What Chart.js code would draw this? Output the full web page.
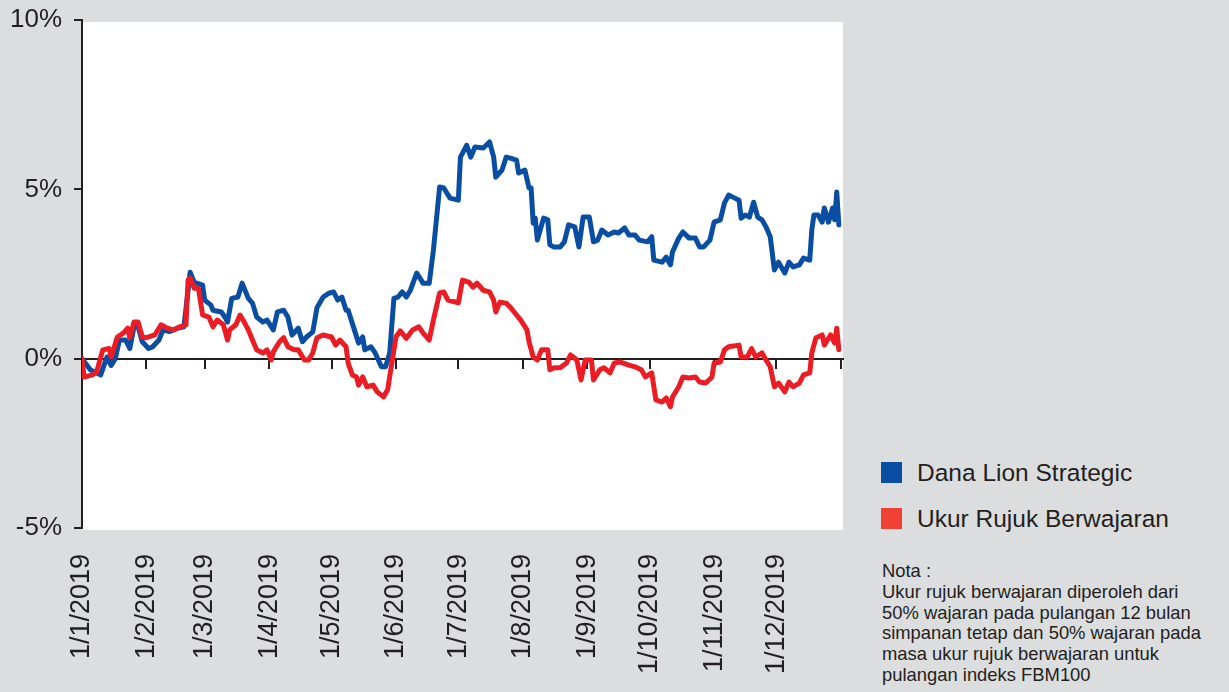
<!DOCTYPE html>
<html>
<head>
<meta charset="utf-8">
<script src="https://cdn.jsdelivr.net/npm/chart.js"></script>
<style>
  html, body { margin: 0; padding: 0; }
  body {
    width: 1229px; height: 692px; overflow: hidden;
    background: #dcdddf;
    font-family: "Liberation Sans", Arial, Helvetica, sans-serif;
    color: #231f20;
    position: relative;
  }
  #chartBox { position: absolute; left: 0; top: 0; width: 850px; height: 692px; }
  .legend-item { position: absolute; left: 881px; font-size: 24.5px; line-height: 24px; }
  .legend-item .box { position: absolute; left: 0; top: 0; width: 21px; height: 21px; }
  .legend-item .txt { position: absolute; left: 36px; top: -1px; white-space: nowrap; }
  #note { position: absolute; left: 882px; top: 561px; width: 345px; font-size: 18.4px; line-height: 20.8px; white-space: nowrap; }
</style>
</head>
<body>
<div id="chartBox"><canvas id="perfChart"></canvas></div>

<div class="legend-item" style="top:462px"><span class="box" style="background:#0a4ea3"></span><span class="txt">Dana Lion Strategic</span></div>
<div class="legend-item" style="top:508px"><span class="box" style="background:#ef4136"></span><span class="txt">Ukur Rujuk Berwajaran</span></div>
<div id="note">Nota :<br>Ukur rujuk berwajaran diperoleh dari<br>50% wajaran pada pulangan 12 bulan<br>simpanan tetap dan 50% wajaran pada<br>masa ukur rujuk berwajaran untuk<br>pulangan indeks FBM100</div>

<script>
// hari sejak 1/1/2019 (0 = 1 Jan) dan pulangan kumulatif (%)
const monthStarts = [0, 31, 59, 90, 120, 151, 181, 212, 243, 273, 304, 334];
const monthLabels = ['1/1/2019', '1/2/2019', '1/3/2019', '1/4/2019', '1/5/2019', '1/6/2019',
                     '1/7/2019', '1/8/2019', '1/9/2019', '1/10/2019', '1/11/2019', '1/12/2019'];
const zeroTicks = [31, 59, 90, 120, 151, 181, 212, 243, 273, 304, 334, 365];
const yTicks = [-5, 0, 5, 10];

const fundDays = [0,4,9,12,14,16,18,21,23,25,27,29,32,34,37,39,42,46,49,51,52,54,58,59,62,63,67,69,70,72,75,77,80,82,84,87,89,92,94,97,99,101,104,106,108,111,113,116,119,121,123,125,127,128,131,133,135,136,139,141,144,146,148,150,152,154,156,158,161,164,167,169,172,174,177,181,182,185,187,189,193,196,198,199,202,204,206,209,210,213,215,216,217,218,219,222,224,225,227,230,232,234,237,239,241,244,246,248,250,253,256,258,261,263,266,268,272,274,275,279,281,283,284,287,289,292,295,297,299,302,304,307,309,311,313,316,317,319,321,323,325,327,329,331,333,335,338,340,342,345,347,350,351,352,354,356,357,359,361,362,363,364];
const fundReturns = [0,-0.33,-0.48,0.05,-0.2,0,0.55,0.55,0.3,0.94,0.94,0.5,0.3,0.35,0.55,0.85,0.8,0.9,0.94,2.0,2.55,2.25,2.17,1.73,1.58,1.43,1.38,1.2,1.08,1.78,1.82,2.23,1.78,1.64,1.23,1.08,1.14,0.85,1.38,1.43,1.23,0.7,0.9,0.5,0.64,0.79,1.5,1.82,1.94,1.97,1.73,1.82,1.43,1.43,0.85,0.46,0.64,0.26,0.35,0.17,-0.24,-0.24,0.17,1.78,1.82,1.97,1.82,2.03,2.53,2.23,2.23,3.2,5.07,5.04,4.74,4.68,5.95,6.3,5.95,6.25,6.22,6.4,5.95,5.36,5.57,5.95,5.92,5.86,5.48,5.57,5.04,5.04,4.0,4.15,3.5,4.15,4.1,3.36,3.3,3.3,3.45,3.95,3.89,3.3,4.18,4.18,3.45,3.5,3.8,3.65,3.74,3.71,3.86,3.65,3.65,3.5,3.45,3.6,2.91,2.85,3.0,2.77,3.15,3.56,3.74,3.56,3.56,3.3,3.3,3.5,4.03,4.1,4.6,4.83,4.77,4.68,4.15,4.24,4.18,4.62,4.18,4.1,3.89,3.6,2.62,2.85,2.53,2.85,2.71,2.77,2.97,2.91,3.8,4.24,4.24,4.03,4.45,4.03,4.45,4.1,4.92,3.95];

const benchDays = [0,1,5,7,10,13,14,17,20,22,23,25,27,29,31,35,38,41,44,47,50,51,52,54,56,58,61,63,65,68,70,71,74,76,78,80,82,84,87,89,91,92,95,97,99,102,104,107,109,111,113,116,120,122,124,127,128,130,132,133,135,137,140,142,145,147,149,151,153,156,159,162,164,167,169,172,174,176,181,183,186,188,190,193,196,198,199,201,204,206,209,211,214,215,217,219,221,224,225,227,230,233,235,238,240,242,245,246,249,251,254,256,259,263,266,269,271,274,276,279,281,283,284,287,289,292,295,297,300,303,304,307,309,311,316,317,320,322,324,327,329,331,333,335,338,340,342,345,347,350,351,353,356,357,360,362,363,364];
const benchReturns = [0,-0.54,-0.48,-0.4,0.26,0.3,0.05,0.64,0.76,0.9,0.62,1.08,1.08,0.64,0.62,0.7,1.0,0.9,0.85,0.94,1.0,2.32,2.38,2.08,2.08,1.29,1.23,0.94,1.14,1.0,0.55,0.85,1.0,1.29,1.08,0.85,0.55,0.26,0.17,0.26,-0.04,0.2,0.5,0.62,0.35,0.26,0.26,-0.04,-0.04,0.17,0.62,0.7,0.64,0.4,0.55,0.35,-0.13,-0.48,-0.54,-0.78,-0.54,-0.83,-0.78,-0.98,-1.13,-0.92,-0.13,0.64,0.82,0.6,0.85,0.94,0.76,0.55,1.14,1.94,1.97,1.73,1.65,2.32,2.26,2.11,2.23,2.02,1.97,1.73,1.38,1.67,1.64,1.52,1.29,1.14,0.85,0.5,0.05,-0.04,0.26,0.26,-0.33,-0.27,-0.27,-0.13,0.11,-0.04,-0.63,-0.04,-0.04,-0.63,-0.33,-0.27,-0.42,-0.13,-0.1,-0.19,-0.24,-0.33,-0.54,-0.42,-1.22,-1.28,-1.16,-1.42,-1.13,-0.83,-0.54,-0.57,-0.54,-0.69,-0.72,-0.54,-0.13,-0.1,0.26,0.35,0.4,0.05,0.05,0.3,0.05,0.17,-0.04,-0.24,-0.83,-0.72,-0.98,-0.69,-0.83,-0.72,-0.48,-0.42,0.17,0.62,0.7,0.4,0.7,0.46,0.9,0.26];

const INK = '#231f20';
const FONT = '"Liberation Sans", Arial, Helvetica, sans-serif';

function toPoints(days, vals) {
    return days.map((d, i) => ({ x: d, y: vals[i] }));
}

// latar putih hanya pada kawasan plot
const plotBg = {
    id: 'plotBg',
    beforeDraw(chart) {
        const a = chart.chartArea, ctx = chart.ctx;
        ctx.save();
        ctx.fillStyle = '#ffffff';
        ctx.fillRect(a.left, a.top + 2, a.right - a.left, a.bottom - a.top);
        ctx.restore();
    }
};

new Chart(document.getElementById('perfChart'), {
    type: 'line',
    data: {
        datasets: [
            { label: 'Dana Lion Strategic', data: toPoints(fundDays, fundReturns), borderColor: '#0a4ea3',
              borderWidth: 5, pointRadius: 0, tension: 0, borderJoinStyle: 'round', borderCapStyle: 'round', order: 1 },
            { label: 'Ukur Rujuk Berwajaran', data: toPoints(benchDays, benchReturns), borderColor: '#ec1c24',
              borderWidth: 5, pointRadius: 0, tension: 0, borderJoinStyle: 'round', borderCapStyle: 'round', order: 0 }
        ]
    },
    options: {
        responsive: true,
        maintainAspectRatio: false,
        animation: false,
        layout: { padding: { top: 20, right: 7, left: 0, bottom: 0 } },
        plugins: { legend: { display: false }, tooltip: { enabled: false } },
        scales: {
            x: {
                type: 'linear', position: 'bottom', min: 0, max: 366,
                grid: { display: false, drawTicks: false },
                border: { display: false },
                afterBuildTicks: s => { s.ticks = monthStarts.map(v => ({ value: v })); },
                afterFit: s => { s.height = 164; },
                ticks: {
                    autoSkip: false, minRotation: 90, maxRotation: 90, padding: 26,
                    color: INK, font: { family: FONT, size: 27 },
                    callback: (v, i) => monthLabels[i]
                }
            },
            xZero: {
                type: 'linear', axis: 'x', position: { y: 0 }, min: 0, max: 366,
                grid: { drawOnChartArea: false, drawTicks: true, tickLength: 9, color: INK, lineWidth: 2 },
                border: { display: true, color: INK, width: 2 },
                afterBuildTicks: s => { s.ticks = zeroTicks.map(v => ({ value: v })); },
                ticks: { display: false }
            },
            y: {
                min: -5, max: 10,
                afterBuildTicks: s => { s.ticks = yTicks.map(v => ({ value: v })); },
                afterFit: s => { s.width = 82; s.paddingTop = 0; s.paddingBottom = 0; },
                grid: { drawOnChartArea: false, drawTicks: true, tickLength: 8, color: INK, lineWidth: 2 },
                border: { display: true, color: INK, width: 2 },
                ticks: { padding: 12, color: INK, font: { family: FONT, size: 26 }, callback: v => v + '%' }
            }
        }
    },
    plugins: [plotBg]
});
</script>
</body>
</html>
